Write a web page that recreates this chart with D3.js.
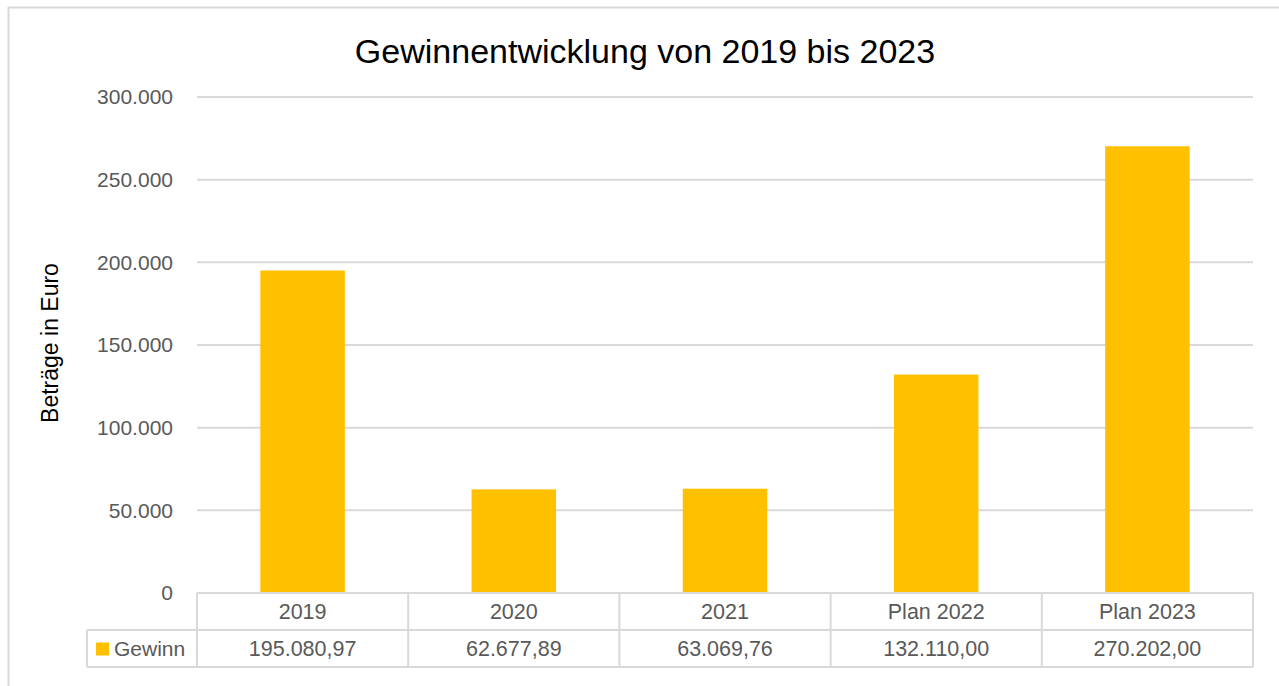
<!DOCTYPE html>
<html>
<head>
<meta charset="utf-8">
<script src="https://cdn.jsdelivr.net/npm/d3@7"></script>
<style>
  body { margin: 0; background: #fff; }
  text { font-family: "Liberation Sans", Arial, sans-serif; }
</style>
</head>
<body>
<div class="chart"></div>
<script>
var categories = ["2019", "2020", "2021", "Plan 2022", "Plan 2023"];
var gewinn = [195080.97, 62677.89, 63069.76, 132110.00, 270202.00];
var tableLabels = ["195.080,97", "62.677,89", "63.069,76", "132.110,00", "270.202,00"];
var yTicks = [0, 50000, 100000, 150000, 200000, 250000, 300000];
var seriesName = "Gewinn";

var svgWidth = 1279;
var svgHeight = 686;

var margin = { top: 97, right: 26, bottom: 93, left: 197 };
var width = svgWidth - margin.left - margin.right;
var height = svgHeight - margin.top - margin.bottom;

var barColor = "#ffc000";
var lineColor = "#d9d9d9";
var textColor = "#595959";

var svg = d3.select(".chart")
  .append("svg")
  .attr("width", svgWidth)
  .attr("height", svgHeight);

// chart border
svg.append("rect")
  .attr("x", 8.5)
  .attr("y", 7.5)
  .attr("width", svgWidth + 20)
  .attr("height", svgHeight + 20)
  .attr("fill", "none")
  .attr("stroke", lineColor)
  .attr("stroke-width", 2);

var chartGroup = svg.append("g")
  .attr("transform", `translate(${margin.left}, ${margin.top})`);

var xScale = d3.scaleBand()
  .domain(categories)
  .range([0, width])
  .paddingInner(0.6)
  .paddingOuter(0.3);

var xCells = d3.scaleBand()
  .domain(categories)
  .range([0, width]);

var yScale = d3.scaleLinear()
  .domain([0, 300000])
  .range([height, 0]);

var fmt = d3.formatLocale({ decimal: ",", thousands: ".", grouping: [3], currency: ["", "€"] }).format(",.0f");

// gridlines
chartGroup.selectAll(".grid")
  .data(yTicks.filter(d => d > 0))
  .enter()
  .append("line")
  .attr("x1", 0)
  .attr("x2", width)
  .attr("y1", d => yScale(d))
  .attr("y2", d => yScale(d))
  .attr("stroke", lineColor)
  .attr("stroke-width", 2);

// y axis labels
var leftAxis = d3.axisLeft(yScale)
  .tickValues(yTicks)
  .tickFormat(d => fmt(d))
  .tickSize(0)
  .tickPadding(24);

var yAxis = chartGroup.append("g").call(leftAxis);
yAxis.select(".domain").remove();
yAxis.selectAll("text")
  .attr("fill", textColor)
  .style("font-size", "21px");

// bars
chartGroup.selectAll(".bar")
  .data(gewinn)
  .enter()
  .append("rect")
  .attr("x", (d, i) => xScale(categories[i]))
  .attr("y", d => yScale(d))
  .attr("width", xScale.bandwidth())
  .attr("height", d => height - yScale(d))
  .attr("fill", barColor);

// data table
var rowH = 37;
var table = chartGroup.append("g")
  .attr("transform", `translate(0, ${height})`);

var legendX = -110;

// horizontal lines
table.append("line").attr("x1", 0).attr("x2", width).attr("y1", 0).attr("y2", 0)
  .attr("stroke", lineColor).attr("stroke-width", 2);
table.append("line").attr("x1", legendX).attr("x2", width).attr("y1", rowH).attr("y2", rowH)
  .attr("stroke", lineColor).attr("stroke-width", 2);
table.append("line").attr("x1", legendX).attr("x2", width).attr("y1", rowH * 2).attr("y2", rowH * 2)
  .attr("stroke", lineColor).attr("stroke-width", 2);

// vertical lines
table.selectAll(".vline")
  .data(categories.concat(["end"]))
  .enter()
  .append("line")
  .attr("x1", d => d === "end" ? width : xCells(d))
  .attr("x2", d => d === "end" ? width : xCells(d))
  .attr("y1", 0)
  .attr("y2", rowH * 2)
  .attr("stroke", lineColor)
  .attr("stroke-width", 2);

table.append("line").attr("x1", legendX).attr("x2", legendX).attr("y1", rowH).attr("y2", rowH * 2)
  .attr("stroke", lineColor).attr("stroke-width", 2);

// header labels
table.selectAll(".cat")
  .data(categories)
  .enter()
  .append("text")
  .attr("x", d => xCells(d) + xCells.bandwidth() / 2)
  .attr("y", rowH / 2)
  .attr("dy", "0.35em")
  .attr("text-anchor", "middle")
  .attr("fill", textColor)
  .style("font-size", "21.5px")
  .text(d => d);

// values
table.selectAll(".val")
  .data(tableLabels)
  .enter()
  .append("text")
  .attr("x", (d, i) => xCells(categories[i]) + xCells.bandwidth() / 2)
  .attr("y", rowH * 1.5)
  .attr("dy", "0.35em")
  .attr("text-anchor", "middle")
  .attr("fill", textColor)
  .style("font-size", "21.5px")
  .text(d => d);

// legend key
table.append("rect")
  .attr("x", legendX + 9)
  .attr("y", rowH * 1.5 - 6)
  .attr("width", 13)
  .attr("height", 13)
  .attr("fill", barColor);

table.append("text")
  .attr("x", legendX + 27)
  .attr("y", rowH * 1.5)
  .attr("dy", "0.35em")
  .attr("fill", textColor)
  .style("font-size", "21px")
  .text(seriesName);

// title
svg.append("text")
  .attr("x", 645)
  .attr("y", 63)
  .attr("text-anchor", "middle")
  .attr("fill", "#000")
  .style("font-size", "34px")
  .text("Gewinnentwicklung von 2019 bis 2023");

// y axis title
svg.append("text")
  .attr("transform", `translate(58, ${343}) rotate(-90)`)
  .attr("text-anchor", "middle")
  .attr("fill", "#000")
  .style("font-size", "23px")
  .text("Beträge in Euro");
</script>
</body>
</html>
